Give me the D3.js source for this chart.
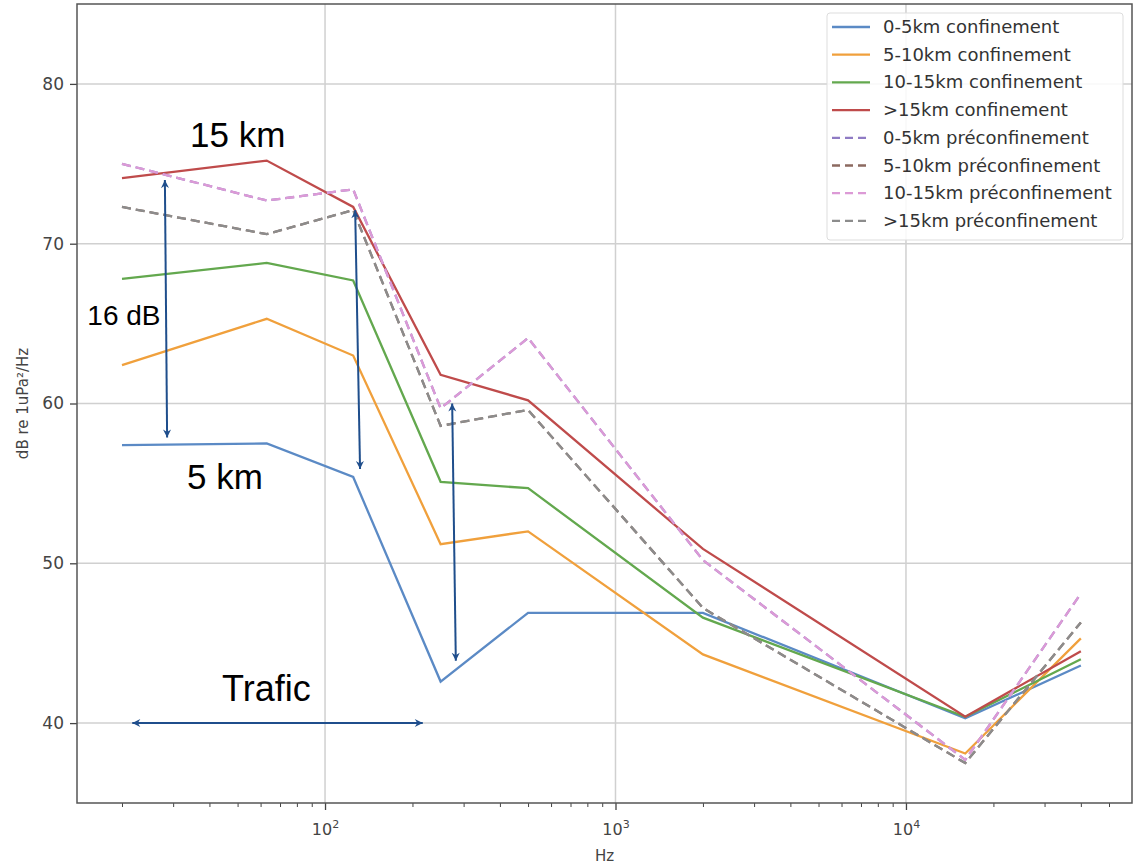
<!DOCTYPE html>
<html>
<head>
<meta charset="utf-8">
<script src="https://cdn.jsdelivr.net/npm/d3@7"></script>
<style>
  html, body { margin: 0; padding: 0; background: #fff; }
  svg { display: block; }
  .tick text { font-family: "DejaVu Sans", sans-serif; }
</style>
</head>
<body>
<svg id="chart" width="1133" height="864"></svg>
<script>
// frequencies (Hz)
const freqs = [20, 63, 125, 250, 500, 2000, 16000, 40000];

// series values, dB re 1uPa²/Hz
const conf0_5 = [57.4, 57.5, 55.4, 42.6, 46.9, 46.9, 40.3, 43.6];
const conf5_10 = [62.4, 65.3, 63.0, 51.2, 52.0, 44.3, 38.1, 45.3];
const conf10_15 = [67.8, 68.8, 67.7, 55.1, 54.7, 46.6, 40.4, 44.0];
const conf15 = [74.1, 75.2, 72.3, 61.8, 60.2, 50.9, 40.4, 44.5];
const pre0_5 = [75.0, 72.7, 73.4, 59.7, 64.1, 50.2, 37.7, 48.1];
const pre5_10 = [72.3, 70.6, 72.1, 58.6, 59.6, 47.2, 37.5, 46.3];
const pre10_15 = [75.0, 72.7, 73.4, 59.7, 64.1, 50.2, 37.7, 48.1];
const pre15 = [72.3, 70.6, 72.1, 58.6, 59.6, 47.2, 37.5, 46.3];

const seriesNames = [
  "0-5km confinement", "5-10km confinement", "10-15km confinement", ">15km confinement",
  "0-5km préconfinement", "5-10km préconfinement", "10-15km préconfinement", ">15km préconfinement"
];
const seriesValues = [conf0_5, conf5_10, conf10_15, conf15, pre0_5, pre5_10, pre10_15, pre15];
const seriesColors = ["#5b8ac5", "#f0a03c", "#63a84e", "#bf4b4b", "#8f7bc4", "#8c6a60", "#dc9ad6", "#8c8c8c"];
const seriesDashed = [false, false, false, false, true, true, true, true];

const yTicks = [40, 50, 60, 70, 80];
const xMajor = [100, 1000, 10000];
const xMajorLabels = ["2", "3", "4"];

// annotations: [f1, v1, f2, v2]
const arrows = [
  [28.1, 73.98, 28.6, 57.87],
  [127, 72.1, 132, 55.9],
  [274, 60.0, 282, 43.9],
  [21.7, 40.0, 217, 40.0]
];
const notes = [
  { text: "15 km", f: 34.3, v: 76.05, size: 35 },
  { text: "5 km", f: 33.5, v: 54.67, size: 35 },
  { text: "16 dB", f: 15.2, v: 64.9, size: 28 },
  { text: "Trafic", f: 44.2, v: 41.4, size: 36 }
];

const margin = { left: 77, top: 4, right: 1, bottom: 61 };
const W = 1133, H = 864;
const w = W - margin.left - margin.right;
const h = H - margin.top - margin.bottom;

const svg = d3.select("#chart");
const g = svg.append("g").attr("transform", `translate(${margin.left},${margin.top})`);

const x = d3.scaleLog().domain([14, 60000]).range([0, w]);
const y = d3.scaleLinear().domain([35, 85]).range([h, 0]);

// grid
g.append("g").selectAll("line").data(yTicks).join("line")
  .attr("x1", 0).attr("x2", w)
  .attr("y1", d => y(d)).attr("y2", d => y(d))
  .attr("stroke", "#d0d0d0").attr("stroke-width", 1.5);
g.append("g").selectAll("line").data(xMajor).join("line")
  .attr("x1", d => x(d)).attr("x2", d => x(d))
  .attr("y1", 0).attr("y2", h)
  .attr("stroke", "#d0d0d0").attr("stroke-width", 1.5);

// lines
const line = d3.line().x((d, i) => x(freqs[i])).y(d => y(d));
seriesValues.forEach((vals, k) => {
  g.append("path")
    .datum(vals)
    .attr("d", line)
    .attr("fill", "none")
    .attr("stroke", seriesColors[k])
    .attr("stroke-width", 2.3)
    .attr("stroke-linejoin", "miter")
    .attr("stroke-dasharray", seriesDashed[k] ? "9,5" : null);
});

// arrows
const arrowColor = "#1f4e8c";
const defs = svg.append("defs");
defs.append("marker")
  .attr("id", "head")
  .attr("viewBox", "0 0 10 10")
  .attr("refX", 9).attr("refY", 5)
  .attr("markerWidth", 10).attr("markerHeight", 10)
  .attr("markerUnits", "userSpaceOnUse")
  .attr("orient", "auto-start-reverse")
  .append("path")
  .attr("d", "M1,1 L9,5 L1,9 L3.5,5 Z")
  .attr("fill", arrowColor);

g.append("g").selectAll("line").data(arrows).join("line")
  .attr("x1", d => x(d[0])).attr("y1", d => y(d[1]))
  .attr("x2", d => x(d[2])).attr("y2", d => y(d[3]))
  .attr("stroke", arrowColor)
  .attr("stroke-width", 2)
  .attr("marker-start", "url(#head)")
  .attr("marker-end", "url(#head)");

g.append("g").selectAll("text").data(notes).join("text")
  .attr("x", d => x(d.f)).attr("y", d => y(d.v))
  .attr("font-family", "Liberation Sans, Arial, sans-serif")
  .attr("font-size", d => d.size)
  .attr("fill", "#000")
  .text(d => d.text);

// axes
const xAxis = d3.axisBottom(x)
  .tickValues(xMajor)
  .tickSize(7)
  .tickFormat("");
const gx = g.append("g").attr("transform", `translate(0,${h})`).call(xAxis);
gx.select(".domain").remove();
gx.selectAll(".tick line").attr("stroke", "#444").attr("stroke-width", 1.3);
gx.selectAll(".tick").each(function (d, i) {
  const t = d3.select(this).append("text")
    .attr("y", 32).attr("fill", "#444")
    .attr("text-anchor", "middle")
    .attr("font-size", 16)
    .attr("font-family", "DejaVu Sans, sans-serif");
  t.append("tspan").text("10");
  t.append("tspan").attr("dy", -7).attr("font-size", 11).text(xMajorLabels[i]);
});

const minor = [];
for (let p = 1; p <= 4; p++) {
  for (let m = 2; m <= 9; m++) {
    const v = m * Math.pow(10, p);
    if (v > 14 && v < 60000) minor.push(v);
  }
}
g.append("g").attr("transform", `translate(0,${h})`)
  .call(d3.axisBottom(x).tickValues(minor).tickSize(4).tickFormat(""))
  .call(s => s.select(".domain").remove())
  .selectAll(".tick line").attr("stroke", "#444").attr("stroke-width", 1);

const gy = g.append("g").call(d3.axisLeft(y).tickValues(yTicks).tickSize(7).tickPadding(6));
gy.select(".domain").remove();
gy.selectAll(".tick line").attr("stroke", "#444").attr("stroke-width", 1.3);
gy.selectAll(".tick text").attr("font-size", 17).attr("fill", "#444");

// frame
g.append("rect")
  .attr("x", 0).attr("y", 0).attr("width", w).attr("height", h)
  .attr("fill", "none").attr("stroke", "#555").attr("stroke-width", 1.5);

// axis labels
svg.append("text")
  .attr("x", margin.left + w / 2).attr("y", 861)
  .attr("text-anchor", "middle")
  .attr("font-family", "DejaVu Sans, sans-serif")
  .attr("font-size", 15).attr("fill", "#444")
  .text("Hz");
svg.append("text")
  .attr("transform", `translate(28,${margin.top + h / 2}) rotate(-90)`)
  .attr("text-anchor", "middle")
  .attr("font-family", "DejaVu Sans, sans-serif")
  .attr("font-size", 15).attr("fill", "#444")
  .text("dB re 1uPa²/Hz");

// legend
const lg = svg.append("g").attr("transform", "translate(827,13)");
lg.append("rect")
  .attr("width", 296).attr("height", 227)
  .attr("rx", 3)
  .attr("fill", "#fff").attr("fill-opacity", 0.85)
  .attr("stroke", "#ddd");
const rows = lg.selectAll("g.row").data(seriesNames).join("g")
  .attr("class", "row")
  .attr("transform", (d, i) => `translate(0,${14 + i * 27.7})`);
rows.append("line")
  .attr("x1", 5).attr("x2", 43)
  .attr("stroke", (d, i) => seriesColors[i])
  .attr("stroke-width", 2.3)
  .attr("stroke-dasharray", (d, i) => seriesDashed[i] ? "8,5" : null);
rows.append("text")
  .attr("x", 56).attr("y", 6)
  .attr("font-family", "DejaVu Sans, sans-serif")
  .attr("font-size", 18).attr("fill", "#333")
  .text(d => d);
</script>
</body>
</html>
